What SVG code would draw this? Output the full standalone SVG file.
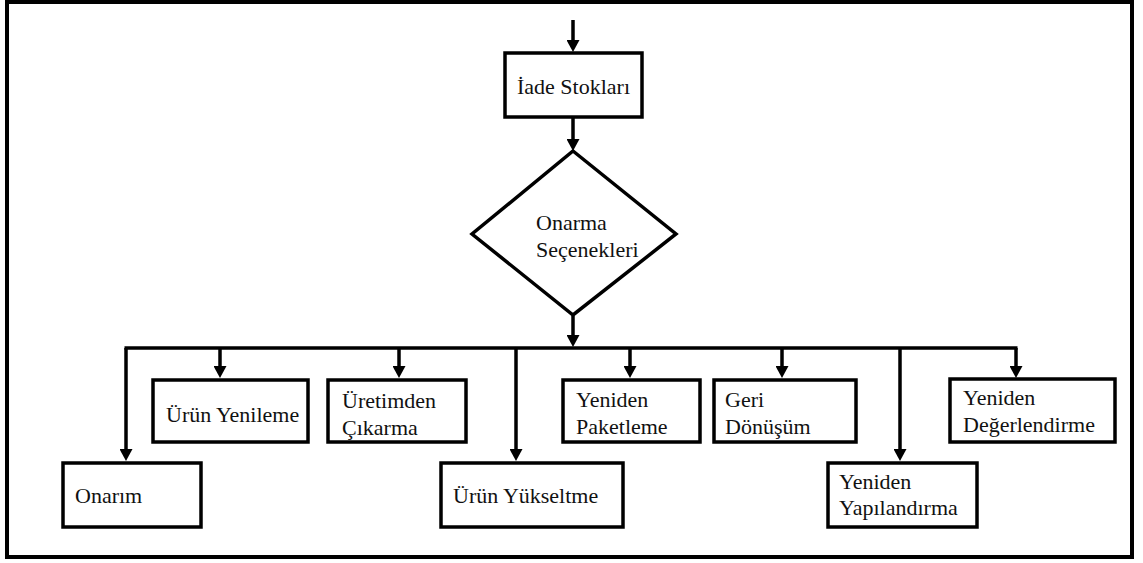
<svg xmlns="http://www.w3.org/2000/svg" width="1143" height="563" viewBox="0 0 1143 563">
  <style>
    .frame { fill: #ffffff; stroke: #000000; stroke-width: 4; }
    .box { fill: #ffffff; stroke: #000000; stroke-width: 3.5; }
    .wire { fill: none; stroke: #000000; stroke-width: 3.5; }
    .arrow { fill: none; stroke: #000000; stroke-width: 3.5; marker-end: url(#head); }
    .label { font-size: 22px; fill: #111111; }
  </style>
  <defs>
    <marker id="head" markerUnits="userSpaceOnUse" markerWidth="13" markerHeight="13" refX="3" refY="6.5" orient="auto">
      <path d="M0,0 L12,6.5 L0,13 z" fill="#000000"/>
    </marker>
  </defs>

  <rect class="frame" x="7" y="2" width="1125" height="555"/>

  <g id="connectors">
    <line class="arrow" x1="573" y1="20" x2="573" y2="43"/>
    <line class="arrow" x1="573" y1="118" x2="573" y2="142"/>
    <line class="arrow" x1="573" y1="316" x2="573" y2="338"/>
    <line class="wire" x1="124.5" y1="348" x2="1017.5" y2="348"/>
    <line class="arrow" x1="126" y1="348" x2="126" y2="452"/>
    <line class="arrow" x1="220" y1="348" x2="220" y2="369"/>
    <line class="arrow" x1="399" y1="348" x2="399" y2="369"/>
    <line class="arrow" x1="516" y1="348" x2="516" y2="452"/>
    <line class="arrow" x1="630" y1="348" x2="630" y2="369"/>
    <line class="arrow" x1="782" y1="348" x2="782" y2="369"/>
    <line class="arrow" x1="900" y1="348" x2="900" y2="452"/>
    <line class="arrow" x1="1016" y1="348" x2="1016" y2="369"/>
  </g>

  <g font-family="'Liberation Serif', 'Times New Roman', serif">
    <g id="iade-stoklari">
      <rect class="box" x="505" y="53" width="137" height="64"/>
      <text class="label" x="517" y="94">İade Stokları</text>
    </g>

    <g id="onarma-secenekleri">
      <polygon class="box" points="573,151 676,234 573,315 472,234"/>
      <text class="label" x="536" y="230">Onarma</text>
      <text class="label" x="536" y="257">Seçenekleri</text>
    </g>

    <g id="onarim">
      <rect class="box" x="63" y="463" width="138" height="64"/>
      <text class="label" x="75" y="503">Onarım</text>
    </g>

    <g id="urun-yenileme">
      <rect class="box" x="153" y="380" width="155" height="62"/>
      <text class="label" x="166" y="422">Ürün Yenileme</text>
    </g>

    <g id="uretimden-cikarma">
      <rect class="box" x="328" y="380" width="138" height="62"/>
      <text class="label" x="342" y="408">Üretimden</text>
      <text class="label" x="342" y="435">Çıkarma</text>
    </g>

    <g id="urun-yukseltme">
      <rect class="box" x="441" y="463" width="182" height="64"/>
      <text class="label" x="453" y="503">Ürün Yükseltme</text>
    </g>

    <g id="yeniden-paketleme">
      <rect class="box" x="563" y="380" width="137" height="62"/>
      <text class="label" x="576" y="407">Yeniden</text>
      <text class="label" x="576" y="434">Paketleme</text>
    </g>

    <g id="geri-donusum">
      <rect class="box" x="714" y="380" width="142" height="62"/>
      <text class="label" x="725" y="407">Geri</text>
      <text class="label" x="725" y="434">Dönüşüm</text>
    </g>

    <g id="yeniden-yapilandirma">
      <rect class="box" x="828" y="463" width="149" height="64"/>
      <text class="label" x="839" y="489">Yeniden</text>
      <text class="label" x="839" y="515">Yapılandırma</text>
    </g>

    <g id="yeniden-degerlendirme">
      <rect class="box" x="950" y="379" width="165" height="63"/>
      <text class="label" x="963" y="405">Yeniden</text>
      <text class="label" x="963" y="432">Değerlendirme</text>
    </g>
  </g>
</svg>
